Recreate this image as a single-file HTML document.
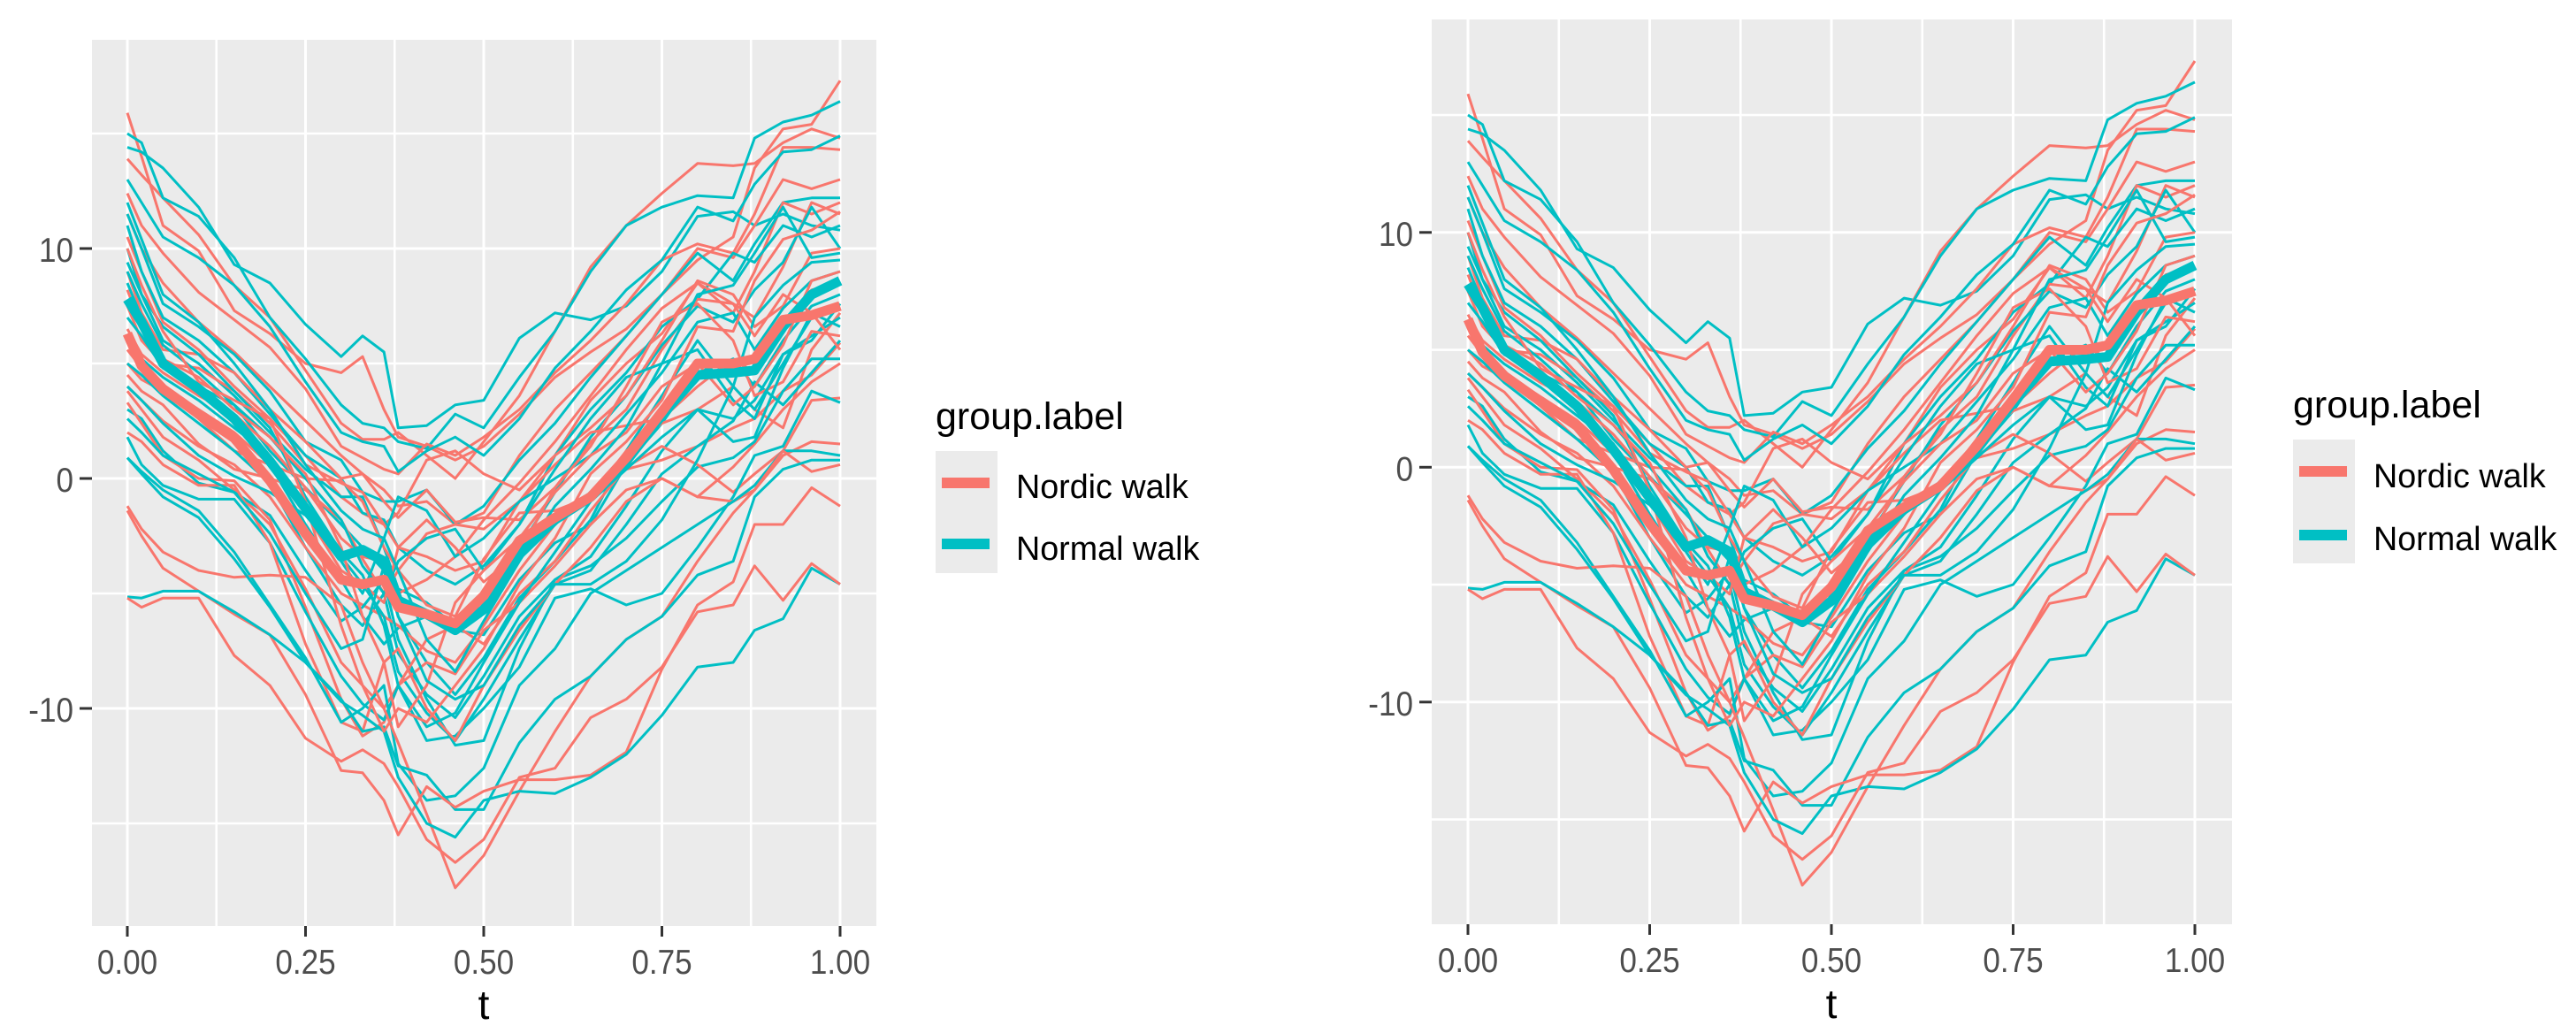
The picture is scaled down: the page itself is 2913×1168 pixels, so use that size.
<!DOCTYPE html>
<html>
<head>
<meta charset="utf-8">
<title>Nordic walk vs Normal walk curves</title>
<style>
html,body{margin:0;padding:0;background:#fff;width:2913px;height:1168px;overflow:hidden}
svg{display:block}
text{font-family:"Liberation Sans",sans-serif}
</style>
</head>
<body>
<svg id="root" xmlns="http://www.w3.org/2000/svg" width="2913" height="1168" viewBox="0 0 2913 1168"></svg>
<script>
const tGrid = [0,.02,.05,.1,.15,.2,.25,.3,.33,.36,.38,.42,.46,.5,.55,.6,.65,.7,.75,.8,.85,.88,.92,.96,1];
const xTickValues = [0,.25,.5,.75,1];
const xTickLabels = ['0.00','0.25','0.50','0.75','1.00'];
const xMinorValues = [.125,.375,.625,.875];
const yTickValues = [10,0,-10];
const yTickLabels = ['10','0','-10'];
const yMinorValues = [15,5,-5,-15];
const legendLabels = ['Nordic walk','Normal walk'];

const nordicCurves = [
[15.9,14,11,9.9,7.3,6.3,5,4.6,5.3,3,1.8,1.4,0.8,1.4,2.8,4.4,5.5,6.5,8,9.5,10.5,13.5,15.2,15.4,17.3],
[13.9,13.2,12.2,10.6,8.4,7,4.7,2.4,1.7,1.7,2,1,0,1.6,3.6,6.4,9.2,11,12.4,13.7,13.6,13.7,14.6,15.2,14.8],
[12.4,11,9.8,8.1,6.9,5.7,3.9,1.4,0.9,.4,.2,1.5,1,1.8,3,4.6,6,7.6,9.5,10.2,9.8,11.5,14.4,14.4,14.3],
[11.5,10,8.5,6.8,5.5,4,2.5,1,.2,-.5,-1.2,-1,-2,-1.5,1,3,4.6,6.2,8,10,9.6,11,13,12.6,13],
[10.5,9,6.8,5.6,4,2.6,1,-.8,-1.5,-2,-1.5,.8,1.2,.2,-.5,1,3.4,5,6.3,8.5,7.2,9,12,11.5,12],
[9,7.2,5.6,5.4,4.6,3,1.6,0,.2,-1,-1.7,-.5,-1.9,-1.7,-1.8,-.4,1.6,3,5.6,7.8,7.6,7,9.2,12,11.5],
[7.5,6,5,4.8,3.8,2.4,.6,-.2,-.6,-2,-3,-3.4,-4,-3.6,-1,1,2.2,3.6,6,8.6,8,6.6,7.5,9.8,10],
[5,4.3,3.8,2.6,1.2,.6,0,-.1,-1,-3,-4,-2.4,-2,-2.2,-1,.6,2,2.3,2.6,4,5.2,4.6,6.5,8.2,8.5],
[4.5,3.8,3.2,1.5,.4,0,-.5,-1.8,-3.5,-5,-4,-5.5,-6,-3.5,-1.5,-1.4,-.8,1.2,2.4,3,4,3,2.2,5.6,7.2],
[4,3.4,2.5,1.4,.6,-.8,-3,-5,-5.5,-6,-6.4,-7.5,-8,-6.4,-4,-2,-.6,.4,.8,1.4,2.2,2.6,3.8,4.5,5.9],
[3.8,3,1.8,.8,-.5,-2,-4.8,-8,-9,-10,-9,-8,-8.5,-6.6,-5.4,-3.8,-2,-.5,0,-.8,.5,1.5,3,4.2,5],
[3.3,2.4,1,0,-.1,-1.8,-5.6,-9.6,-11.2,-10.6,-9,-7,-6.4,-7.2,-5,-3.6,-1.4,.5,1.4,.6,-.6,.2,1.2,3.4,3.5],
[2,1.6,.6,-.3,-.3,-2.8,-7.2,-10.6,-11,-8,-7.4,-10,-11.4,-9,-6.6,-4.6,-3,-1,0,-.8,-1,-.5,1,1.6,1.5],
[-1.2,-2.2,-3.2,-4,-4.3,-4.2,-4.3,-5.5,-8,-10,-11.5,-14.6,-17.8,-16.4,-13.6,-11,-8.6,-7,-6,-3.6,-1.5,-.5,1.2,.3,.6],
[-1.4,-2.5,-3.9,-4.9,-5.9,-6.8,-9.4,-12.7,-12.8,-14,-15.5,-13.4,-14.3,-13.6,-13.1,-13.1,-12.9,-11.9,-8.3,-5.5,-4.5,-2,-2,-.4,-1.2],
[-5.2,-5.6,-5.2,-5.2,-7.7,-9,-11.3,-12.3,-11.8,-12.4,-13.4,-15.7,-16.7,-15.7,-13,-12.6,-10.4,-9.6,-8.2,-5.8,-5.5,-3.8,-5.3,-3.7,-4.6],
[6.5,5.4,4.6,3.6,2.8,1.4,-.4,-2.6,-3.4,-3.6,-5,-4.4,-3.4,-1.8,-.2,1.6,3.6,5.6,7.4,8.5,7.6,6.2,8,7.2,5.6],
[5.6,4.8,4,3,2,.6,-1.5,-4,-4.6,-5.4,-3,-1.8,-3,-4.5,-3.2,-.4,1.4,4,6.8,7.6,6,3.6,4.2,6.4,6.2],
[8.2,6.6,5.2,4.4,3,1.8,.2,-3,-6,-8,-10.8,-9,-5.4,-4,-2.6,-.6,1,2,4,5,3.2,4,5.8,8.6,9],
[10,8.4,6.4,4.2,3.4,2.6,-1,-6.4,-9,-11,-10,-10.6,-9,-7.4,-4.6,-2.6,.2,1.6,3.4,6.6,6.4,8.6,10.4,10.8,11.6]
];
const normalCurves = [
[14.4,14.2,13.5,11.8,9.3,8.5,6.7,5.3,6.2,5.5,2.2,2.3,3.2,3.4,6.1,7.2,6.9,7.5,9,11.4,11.6,11,11.5,11,10.8],
[15,14.6,12.2,11.4,9.6,7,5.2,3.2,2.4,2.2,1.6,1.3,2.8,2.2,4.4,6.4,9,11,11.8,12.3,12.2,14.8,15.5,15.8,16.4],
[13,12,10.5,9.6,8.4,6.6,4.2,2,1.6,1.4,.3,1.2,1.8,1,2.6,4.8,6.4,8.2,9.5,11.8,11.2,12.8,14.2,14.3,14.9],
[11.5,10,7.6,6.6,5.4,3.8,1.6,.8,-.6,-1,-1,-.5,-2,-1.2,.8,2.4,4.4,6.2,8,9.8,8.6,10.2,12,12.2,12.2],
[11,9,7,6,4.6,2.8,1,0,-1.5,-1.8,-3,-4,-4.6,-3.8,-2,1,3,4.6,6.6,7.8,9.8,9.4,11,10.5,11],
[10,8,6,5,3.6,2,.4,-.8,-.8,-3,-4.8,-5.4,-6.4,-5.6,-3,-.6,1.8,3.6,5.8,7.5,6.8,8.2,9.4,11.8,10],
[9,7.6,5.8,4.6,3.2,1.2,-.4,-2,-3,-4,-6,-8,-9.4,-7.8,-5.2,-3.6,-1.8,1.2,3.6,6,4,7,8.4,9.4,9.5],
[8.5,7,5,3.8,2.6,.6,-2,-4.4,-6,-7.2,-6.5,-6,-6.6,-6.8,-4.4,-2.8,-2,.6,2.4,4.6,5.2,4,6,7.5,8],
[5,4.5,3.6,2.4,1.2,-.2,-3,-5.5,-6.4,-5,-7.6,-9.4,-10.4,-8.6,-6,-4.4,-3.4,-1.2,1.2,3,2.6,3.4,5.4,6.2,7],
[4,3.4,2.4,1,.1,-.6,-1.6,-3.4,-4.6,-6,-8.4,-10.2,-11.4,-9.6,-7,-4.6,-4,-2,.2,1.4,2.5,4.2,3.2,4.6,6],
[3,2.6,1.2,-.2,-.6,-1.6,-4,-6.2,-5.6,-4.4,-7,-9.6,-11.6,-11.4,-7.4,-4.4,-3.8,-2.6,-1,.5,.9,1.6,3.8,5.2,5.2],
[1.8,.6,-.3,-.9,-.9,-2.8,-5.8,-8.6,-9.8,-10.5,-9,-11.4,-11.2,-10,-8.2,-5.2,-4.8,-5.5,-5,-3,-.8,1,1.4,3.8,3.3],
[.9,.3,-.5,-1.4,-3.2,-5.5,-7.8,-10.6,-10,-9,-12.4,-14,-13.8,-12.6,-9,-7.4,-5,-4,-3,-2,-1,-.3,1.2,1.2,1],
[.9,.2,-.8,-1.7,-3.5,-5.6,-8,-9.6,-11,-10.8,-12.5,-12.9,-14.4,-14.4,-11.5,-9.6,-8.6,-7,-6,-4.2,-3.6,-.8,.4,.8,.8],
[-5.15,-5.2,-4.9,-4.9,-5.8,-6.8,-8,-9.7,-10.3,-11,-13,-15,-15.6,-14,-13.6,-13.7,-13,-12,-10.3,-8.2,-8,-6.6,-6.1,-3.9,-4.6],
[7,6.2,4.8,4,3.2,1.8,0,-1.8,-3.8,-5,-3.6,-2.6,-2.2,-4,-2,.4,2.6,4.4,5,5.6,3.4,2.6,5.4,6,7.6],
[6,5.2,4.4,3.4,2.2,1,-1.2,-3.6,-5,-2.6,-.8,-1.4,-3.4,-2.6,-1,0,1,2.8,4.6,6.8,7.2,5.6,7.4,8.6,9],
[9.4,8,6.6,5.4,3.8,2.2,-.8,-3.2,-4.2,-6.4,-9,-10.8,-10.2,-8,-5.4,-3.2,-1,.4,1.8,3,1.6,1.8,4.8,7.2,6.6],
[12,10.4,8,6.8,5,3,.6,-1.4,-2.2,-2.6,-4,-7,-8.4,-6.2,-3.6,-1.2,.4,2.2,5,8,8.4,9.8,11.8,9.6,9.8],
[2.6,2,1,.2,-.6,-2.4,-5,-7.4,-7,-3.8,-6,-8.8,-9.6,-9,-6.4,-4.6,-4.6,-3.6,-1.8,.8,4,3,5,7,7.4]
];
const nordicMean = [6.3,4.9,3.9,2.8,1.75,-.1,-2.4,-4.4,-4.6,-4.4,-5.6,-5.9,-6.3,-5.1,-2.7,-1.7,-.8,.9,2.9,5,5,5.2,6.9,7.1,7.5];
const normalMean = [7.8,6.8,5,3.9,2.6,.75,-1.3,-3.4,-3.1,-3.6,-5.3,-5.9,-6.6,-5.7,-3.3,-1.8,-.8,.75,2.75,4.5,4.6,4.7,6.6,8,8.6];

const SVG_NS = 'http://www.w3.org/2000/svg';
const NORDIC_COLOR = '#F8766D';
const NORMAL_COLOR = '#00BFC4';
const root = document.getElementById('root');

function make(parent, tag, attrs, content) {
  const node = document.createElementNS(SVG_NS, tag);
  for (const k in attrs) node.setAttribute(k, attrs[k]);
  if (content !== undefined) node.textContent = content;
  parent.appendChild(node);
  return node;
}

function drawPanel(cfg) {
  const xScale = t => cfg.x0 + cfg.xUnit * t;
  const yScale = v => cfg.y0 - cfg.yUnit * v;
  const toPoints = vals => vals.map((v, i) => xScale(tGrid[i]).toFixed(1) + ',' + yScale(v).toFixed(1)).join(' ');

  const g = make(root, 'g', {});
  
  

  const bg = make(g, 'rect', {x: cfg.left, y: cfg.top, width: cfg.right - cfg.left, height: cfg.bottom - cfg.top, fill: '#EBEBEB'});
  
  

  yMinorValues.forEach(v => {
    const ln = make(g, 'line', {x1: cfg.left, x2: cfg.right, y1: yScale(v), y2: yScale(v), stroke: '#fff', 'stroke-width': 2.6});
    
    
  });
  xMinorValues.forEach(t => {
    const ln = make(g, 'line', {y1: cfg.top, y2: cfg.bottom, x1: xScale(t), x2: xScale(t), stroke: '#fff', 'stroke-width': 2.6});
    
    
  });
  yTickValues.forEach(v => {
    const ln = make(g, 'line', {x1: cfg.left, x2: cfg.right, y1: yScale(v), y2: yScale(v), stroke: '#fff', 'stroke-width': 3});
    
    
  });
  xTickValues.forEach(t => {
    const ln = make(g, 'line', {y1: cfg.top, y2: cfg.bottom, x1: xScale(t), x2: xScale(t), stroke: '#fff', 'stroke-width': 3});
    
    
  });

  const count = Math.max(nordicCurves.length, normalCurves.length);
  for (let i = 0; i < count; i++) {
    if (nordicCurves[i]) {
      const p = make(g, 'polyline', {points: toPoints(nordicCurves[i]), fill: 'none', stroke: NORDIC_COLOR, 'stroke-width': 3, 'stroke-linejoin': 'round'});
      
      
    }
    if (normalCurves[i]) {
      const p = make(g, 'polyline', {points: toPoints(normalCurves[i]), fill: 'none', stroke: NORMAL_COLOR, 'stroke-width': 3, 'stroke-linejoin': 'round'});
      
      
    }
  }
  const m2 = make(g, 'polyline', {points: toPoints(normalMean), fill: 'none', stroke: NORMAL_COLOR, 'stroke-width': 11, 'stroke-linejoin': 'round'});
  
  
  const m1 = make(g, 'polyline', {points: toPoints(nordicMean), fill: 'none', stroke: NORDIC_COLOR, 'stroke-width': 11, 'stroke-linejoin': 'round'});
  
  

  xTickValues.forEach((t, i) => {
    const tk = make(g, 'line', {x1: xScale(t), x2: xScale(t), y1: cfg.bottom, y2: cfg.bottom + 12, stroke: '#333', 'stroke-width': 3});
    
    
    const lb = make(g, 'text', {transform: 'translate(' + xScale(t) + ',' + cfg.xLabelY + ') scale(0.9,1)', 'text-anchor': 'middle', 'font-size': 39, fill: '#4D4D4D'}, xTickLabels[i]);
    
    
  });
  yTickValues.forEach((v, i) => {
    const tk = make(g, 'line', {x1: cfg.left - 14, x2: cfg.left, y1: yScale(v), y2: yScale(v), stroke: '#333', 'stroke-width': 3});
    
    
    const lb = make(g, 'text', {transform: 'translate(' + (cfg.left - 21) + ',' + (yScale(v) + 15) + ') scale(0.9,1)', 'text-anchor': 'end', 'font-size': 39, fill: '#4D4D4D'}, yTickLabels[i]);
    
    
  });
  const xt = make(g, 'text', {x: xScale(.5), y: cfg.tLabelY, 'text-anchor': 'middle', 'font-size': 46, fill: '#000'}, 't');
  
  

  const lg = make(g, 'g', {});
  
  
  const title = make(lg, 'text', {x: cfg.legX, y: cfg.legTitleY, 'font-size': 43, fill: '#000'}, 'group.label');
  
  
  const keyBox = make(lg, 'rect', {x: cfg.legX, y: cfg.legTop, width: 70, height: cfg.legBottom - cfg.legTop, fill: '#EBEBEB'});
  
  
  [NORDIC_COLOR, NORMAL_COLOR].forEach((c, i) => {
    const k = make(lg, 'rect', {x: cfg.legX + 7, y: cfg.legLineY[i] - 6, width: 54, height: 12, fill: c});
    
    
    const t = make(lg, 'text', {x: cfg.legX + 91, y: cfg.legTextY[i], 'font-size': 37.7, fill: '#000'}, legendLabels[i]);
    
    
  });
}

drawPanel({name: 'left-panel', left: 104, right: 991, top: 45, bottom: 1047, x0: 144, xUnit: 806, y0: 541, yUnit: 26,
  xLabelY: 1101, tLabelY: 1152, legX: 1058, legTitleY: 485, legTop: 510, legBottom: 648,
  legLineY: [546, 615], legTextY: [563, 633]});
drawPanel({name: 'right-panel', left: 1619, right: 2524, top: 22, bottom: 1045, x0: 1660, xUnit: 822, y0: 528.3, yUnit: 26.55,
  xLabelY: 1099, tLabelY: 1151, legX: 2593, legTitleY: 472, legTop: 497, legBottom: 637,
  legLineY: [533, 605], legTextY: [551, 622]});
</script>
</body>
</html>
